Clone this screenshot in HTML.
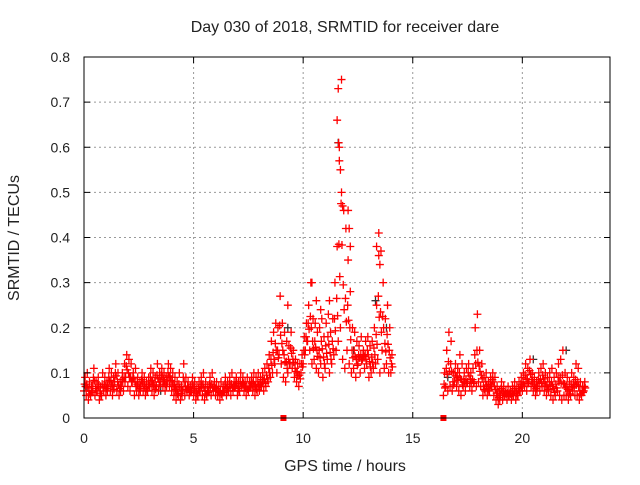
<!DOCTYPE html>
<html><head><meta charset="utf-8"><style>
body{margin:0;background:#fff}
svg text{font-family:"Liberation Sans",sans-serif;font-size:14px;fill:#222}
svg text.big{font-size:16px}
</style></head><body>
<svg id="chart" width="640" height="480" xmlns="http://www.w3.org/2000/svg">
<rect width="640" height="480" fill="#fff"/>
<g id="grid"></g>
<g id="marks"></g>
<rect x="84" y="57" width="526" height="361" fill="none" stroke="#000" stroke-width="1"/>
<g id="ticks"></g>
<text class="big" x="345" y="32" text-anchor="middle">Day 030 of 2018, SRMTID for receiver dare</text>
<text class="big" x="345" y="471" text-anchor="middle">GPS time / hours</text>
<text class="big" transform="translate(19,238) rotate(-90)" text-anchor="middle">SRMTID / TECUs</text>
</svg>
<script>
const xTicks=[0,5,10,15,20];
const yTicks=[0,0.1,0.2,0.3,0.4,0.5,0.6,0.7,0.8];
const yTickLabels=["0","0.1","0.2","0.3","0.4","0.5","0.6","0.7","0.8"];
const segStarts=[0,16.4];
const seg1Low=[.06,.05,.04,.05,.07,.05,.06,.04,.05,.06,.05,.07,.06,.05,.08,.06,.05,.07,.06,.09,
.07,.06,.08,.05,.06,.05,.07,.06,.05,.06,.07,.06,.05,.07,.06,.08,.07,.06,.08,.07,
.06,.05,.04,.05,.04,.06,.05,.06,.05,.06,.05,.04,.05,.06,.05,.04,.05,.06,.05,.06,
.05,.05,.04,.05,.06,.05,.06,.05,.06,.07,.05,.06,.07,.06,.05,.06,.07,.06,.05,.06,
.06,.07,.06,.07,.08,.09,.1,.12,.1,.14,.12,.09,.08,.1,.12,.11,.09,.08,.07,.1,
.12,.15,.17,.15,.12,.13,.11,.1,.12,.09,.11,.13,.1,.12,.14,.15,.17,.2,.13,.11,
.15,.12,.1,.11,.09,.12,.1,.13,.11,.12,.09,.1,.11,.12,.13,.1,.15,.11,.12,.1,.1];
const seg1High=[.09,.1,.08,.07,.11,.08,.09,.07,.1,.09,.08,.11,.1,.09,.12,.1,.08,.1,.12,.14,
.13,.12,.1,.11,.09,.08,.1,.09,.08,.09,.11,.1,.09,.12,.1,.11,.1,.09,.12,.11,
.1,.09,.08,.1,.07,.12,.09,.08,.07,.09,.08,.07,.08,.09,.1,.08,.07,.09,.1,.08,
.08,.07,.08,.07,.09,.08,.09,.1,.08,.09,.08,.1,.09,.08,.09,.08,.09,.1,.09,.1,
.09,.1,.11,.12,.14,.17,.19,.21,.2,.27,.21,.19,.17,.16,.19,.15,.13,.12,.12,.14,
.18,.21,.25,.3,.22,.21,.19,.2,.22,.18,.21,.23,.19,.22,.3,.38,.6,.75,.46,.42,
.35,.28,.2,.19,.17,.16,.18,.15,.17,.18,.16,.17,.2,.25,.41,.37,.3,.22,.25,.2,.14];
const seg2Low=[.05,.07,.06,.07,.06,.08,.07,.06,.05,.07,.06,.08,.07,.06,.08,.07,
.08,.07,.05,.06,.05,.06,.07,.05,.04,.03,.05,.04,.05,.04,.05,.04,.05,.04,.05,.06,
.06,.07,.06,.08,.07,.06,.05,.07,.06,.07,.06,.05,.06,.05,.04,.05,.06,.05,.04,.05,.05,.04,.05,.06,.05,.05,.04,.05,.06];
const seg2High=[.1,.15,.19,.17,.1,.12,.11,.14,.12,.1,.11,.12,.1,.11,.2,.23,
.15,.12,.09,.1,.08,.09,.1,.09,.07,.06,.08,.07,.06,.07,.06,.07,.08,.07,.08,.09,
.1,.12,.11,.13,.1,.09,.08,.1,.11,.12,.1,.09,.1,.11,.09,.1,.12,.13,.15,.1,.09,.08,.1,.09,.12,.11,.08,.07,.08];
const peakTimes=[11.55,11.6,11.62,11.65,11.7,11.75,11.8,12.05,12.1,12.15,13.35,13.45,13.5,9.3,10.4,10.6,10.8,11.2];
const peakVals=[.66,.73,.61,.57,.55,.5,.47,.46,.42,.38,.38,.36,.34,.25,.3,.26,.24,.26];
const blackTimes=[0.1,3.5,9.3,11.6,12.3,13.3,13.8,16.6,20.5,22.0];
const blackVals=[.07,.06,.2,.61,.15,.26,.2,.09,.13,.15];
const gapMarks=[9.1,16.4];
const NS="http://www.w3.org/2000/svg";
const X=h=>84+h*(526/24), Y=v=>418-v*(361/0.8);
const grid=document.getElementById('grid'),ticks=document.getElementById('ticks'),marks=document.getElementById('marks');
function mk(tag,attrs,parent){const e=document.createElementNS(NS,tag);for(const k in attrs)e.setAttribute(k,attrs[k]);parent.appendChild(e);return e;}
xTicks.forEach(t=>{
 if(t>0){const g=mk('line',{x1:X(t),x2:X(t),y1:57,y2:418,stroke:'#999','stroke-dasharray':'2,3'},grid);
 
 }
 const l=mk('text',{x:X(t),y:443,'text-anchor':'middle'},ticks);l.textContent=t;
 
 
 mk('line',{x1:X(t),x2:X(t),y1:418,y2:412,stroke:'#000'},ticks);
 mk('line',{x1:X(t),x2:X(t),y1:57,y2:63,stroke:'#000'},ticks);
});
yTicks.forEach((v,i)=>{
 if(v>0&&v<0.8){const g=mk('line',{x1:84,x2:610,y1:Y(v),y2:Y(v),stroke:'#999','stroke-dasharray':'2,3'},grid);
 
 }
 const l=mk('text',{x:70,y:Y(v)+5,'text-anchor':'end'},ticks);l.textContent=yTickLabels[i];
 
 
 mk('line',{x1:84,x2:90,y1:Y(v),y2:Y(v),stroke:'#000'},ticks);
 mk('line',{x1:604,x2:610,y1:Y(v),y2:Y(v),stroke:'#000'},ticks);
});
function plus(h,v,c,name){
 const x=X(h),y=Y(v);
 const p=mk('path',{d:`M${x-4},${y}H${x+4}M${x},${y-4}V${y+4}`,stroke:c,'stroke-width':1.3,fill:'none'},marks);
 
 
}
function drawSeg(start,lo,hi){
 lo.forEach((v,i)=>{const t=start+i*0.1;
  plus(t,v,'red','srmtid-point');
  plus(t+0.05,hi[i],'red','srmtid-point');
  plus(t+0.03,(v+hi[i])/2,'red','srmtid-point');
  plus(t+0.07,(2*v+hi[i])/3,'red','srmtid-point');
 });
}
blackTimes.forEach((t,i)=>plus(t,blackVals[i],'#333','srmtid-point-alt'));
drawSeg(segStarts[0],seg1Low,seg1High);
drawSeg(segStarts[1],seg2Low,seg2High);
peakTimes.forEach((t,i)=>plus(t,peakVals[i],'red','srmtid-peak-point'));
gapMarks.forEach(t=>{
 const r=mk('rect',{x:X(t)-3,y:415,width:6,height:6,fill:'red'},marks);
 
 
});
</script>
</body></html>
